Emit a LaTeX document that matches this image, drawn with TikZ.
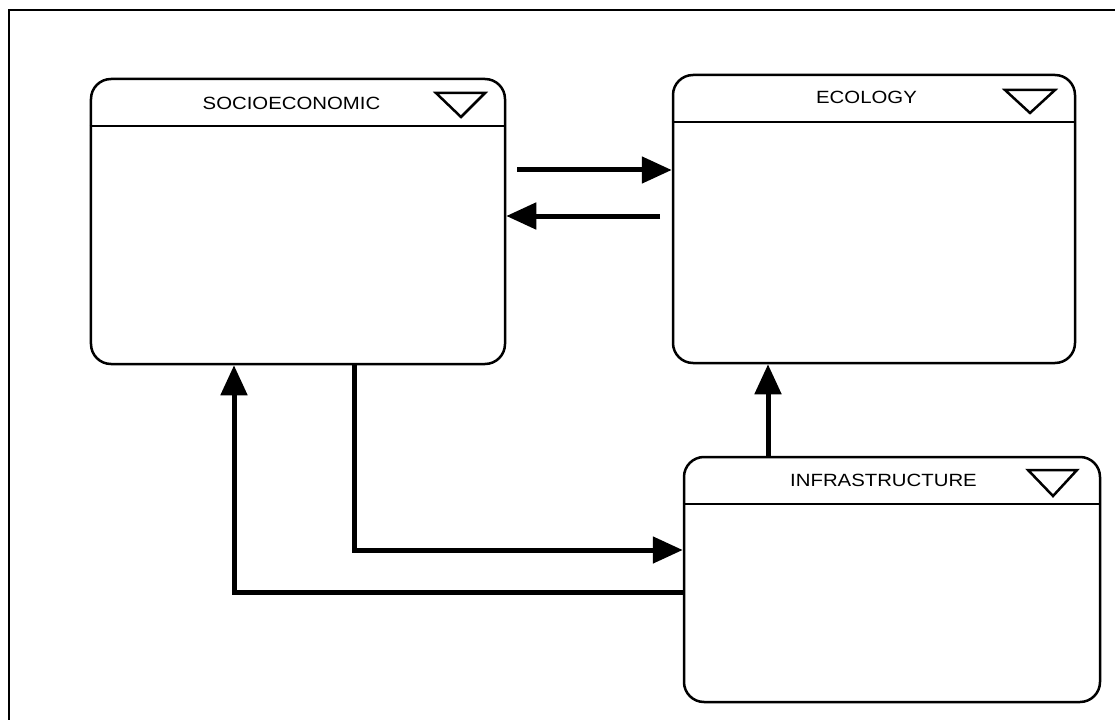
\documentclass[tikz,border=0pt]{standalone}
\usepackage{fontspec}
\newfontfamily\hdrfont[FakeStretch=1.15]{Liberation Sans}
\usetikzlibrary{arrows.meta}
\tikzset{
  panel/.style={draw, line width=2.5bp, rounded corners=20bp, inner sep=0pt},
  divider/.style={line width=2.5bp},
  menutri/.style={line width=2.5bp, line join=miter},
  caption/.style={font=\hdrfont\fontsize{17.7bp}{20bp}\selectfont, inner sep=0pt},
  flow/.style={line width=5bp, line join=miter,
    -{Triangle[length=30bp,width=26bp]}},
  frame/.style={line width=2bp}
}
\begin{document}
\begin{tikzpicture}[x=1bp,y=-1bp]
\useasboundingbox (0,0) rectangle (1115,720);
\fill[white] (0,0) rectangle (1115,720);
% outer frame
\draw[frame] (9,10) rectangle (1125,730);

% panels
\node[panel, minimum width=414bp, minimum height=285bp] (soc) at (298,221.5) {};
\node[panel, minimum width=402bp, minimum height=288bp] (eco) at (874,219) {};
\node[panel, minimum width=416bp, minimum height=245bp] (infra) at (892,579.5) {};

% header dividers
\coordinate (hs) at (0,126);
\coordinate (he) at (0,122);
\coordinate (hi) at (0,504);
\draw[divider] (soc.west |- hs) -- (soc.east |- hs);
\draw[divider] (eco.west |- he) -- (eco.east |- he);
\draw[divider] (infra.west |- hi) -- (infra.east |- hi);

% header captions
\node[caption] (socl) at (291.5,103) {SOCIOECONOMIC};
\node[caption] (ecol) at (866.5,97) {ECOLOGY};
\node[caption] (infl) at (883.5,480) {INFRASTRUCTURE};

% menu triangles
\draw[menutri] (436,93) -- (485,93) -- (461,117) -- cycle;
\draw[menutri] (1005,90) -- (1055,90) -- (1030,113) -- cycle;
\draw[menutri] (1028,470) -- (1077,470) -- (1053,496) -- cycle;

% connectors
\coordinate (a1) at (517,170);
\coordinate (a2) at (660,216);
\draw[flow] (a1) -- (eco.west |- a1);
\draw[flow] (a2) -- (soc.east |- a2);

\coordinate (c1) at (768,0);
\draw[flow] (c1 |- infra.north) -- (c1 |- eco.south);

\coordinate (c2) at (354,0);
\coordinate (c3) at (0,550);
\draw[flow] (c2 |- soc.south) |- (infra.west |- c3);

\coordinate (c4) at (0,592);
\coordinate (c5) at (234,0);
\draw[flow] (infra.west |- c4) -| (c5 |- soc.south);
\end{tikzpicture}
\end{document}
